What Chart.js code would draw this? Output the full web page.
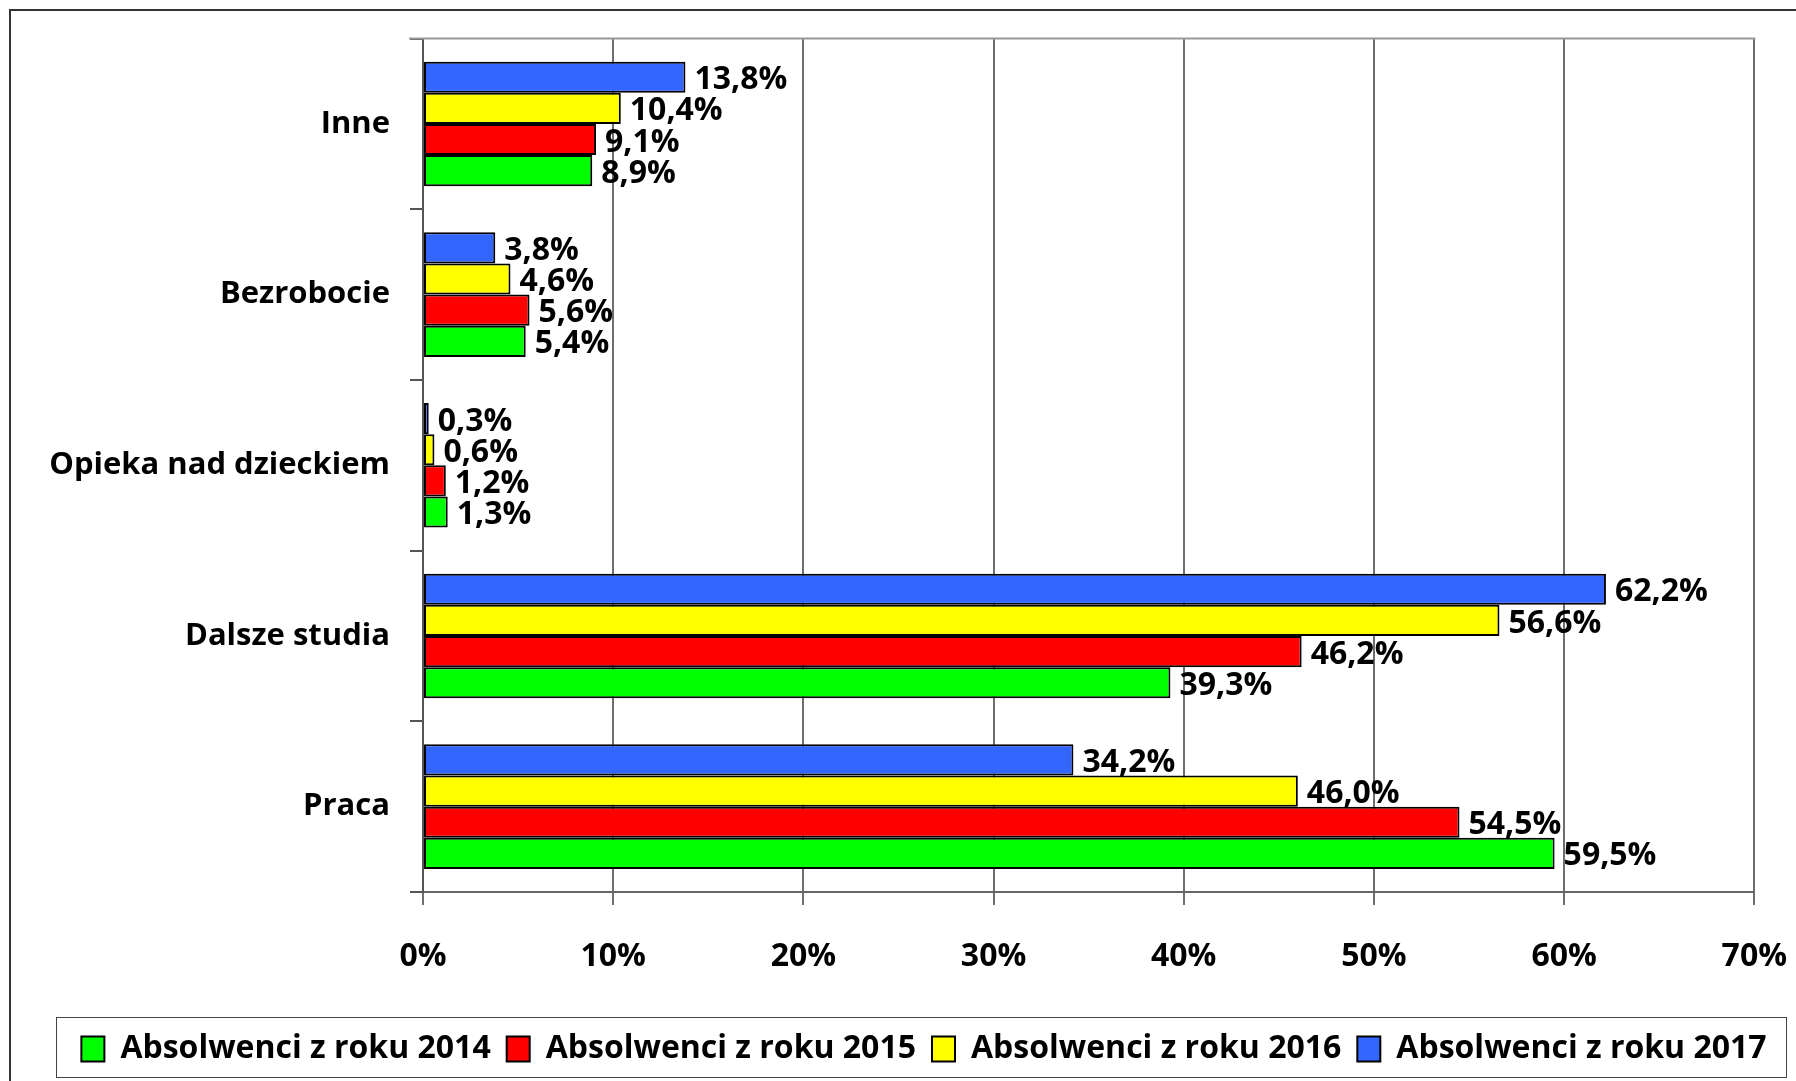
<!DOCTYPE html>
<html>
<head>
<meta charset="utf-8">
<script src="https://cdn.jsdelivr.net/npm/chart.js@4.4.1/dist/chart.umd.min.js"></script>
<style>
  html, body { margin: 0; padding: 0; background: #fff; }
  #wrap { width: 1796px; height: 1081px; }
</style>
</head>
<body>
<div id="wrap"><canvas id="chart" width="1796" height="1081"></canvas></div>
<script>
// categories, top to bottom as in the picture
var categories = ['Inne', 'Bezrobocie', 'Opieka nad dzieckiem', 'Dalsze studia', 'Praca'];

// shares in %, same order as categories
var values2014 = [8.9, 5.4, 1.3, 39.3, 59.5];
var values2015 = [9.1, 5.6, 1.2, 46.2, 54.5];
var values2016 = [10.4, 4.6, 0.6, 56.6, 46.0];
var values2017 = [13.8, 3.8, 0.3, 62.2, 34.2];

var seriesLabels = ['Absolwenci z roku 2017', 'Absolwenci z roku 2016', 'Absolwenci z roku 2015', 'Absolwenci z roku 2014'];
var seriesColors = ['#3366ff', '#ffff00', '#ff0000', '#00ff00'];
var xTicks = [0, 10, 20, 30, 40, 50, 60, 70];

var FONT = "'Open Sans', sans-serif";
var FSIZE = 32;

function fmt(v) {
	return v.toFixed(1).replace('.', ',') + '%';
}

/*----frame, plot border, legend frame----*/
var frames = {
	id: 'frames',
	afterLayout: function(chart) {
		// legend box is narrower than the y axis labels area
		var lg = chart.legend;
		lg.left = 56;
		lg.right = 1792;
		lg.width = lg.right - lg.left;
	},
	beforeDraw: function(chart) {
		var ctx = chart.ctx;
		ctx.save();
		ctx.fillStyle = '#fff';
		ctx.fillRect(0, 0, chart.width, chart.height);
		ctx.strokeStyle = '#333';
		ctx.lineWidth = 2;
		ctx.beginPath();
		ctx.moveTo(10, chart.height + 5);
		ctx.lineTo(10, 10);
		ctx.lineTo(chart.width + 5, 10);
		ctx.stroke();
		ctx.restore();
	},
	afterDraw: function(chart) {
		var ctx = chart.ctx;
		var a = chart.chartArea;
		ctx.save();
		ctx.strokeStyle = '#999';
		ctx.lineWidth = 2;
		ctx.beginPath();
		ctx.moveTo(a.left - 14, a.top);
		ctx.lineTo(a.right + 1, a.top);
		ctx.stroke();
		// legend frame
		var lg = chart.legend;
		var mid = lg.top + lg.options.labels.padding + FSIZE / 2;
		ctx.strokeStyle = '#444';
		ctx.lineWidth = 1;
		ctx.strokeRect(56.5, Math.round(mid - 32) + 0.5, 1730, 60);
		ctx.restore();
	}
};

/*----value labels----*/
var valueLabels = {
	id: 'valueLabels',
	afterDatasetsDraw: function(chart) {
		var ctx = chart.ctx;
		ctx.save();
		ctx.font = 'bold ' + FSIZE + 'px ' + FONT;
		ctx.fillStyle = '#000';
		ctx.textAlign = 'left';
		ctx.textBaseline = 'middle';
		chart.data.datasets.forEach(function(ds, i) {
			chart.getDatasetMeta(i).data.forEach(function(bar, j) {
				ctx.fillText(fmt(ds.data[j]), bar.x + 9, bar.y + 3);
			});
		});
		ctx.restore();
	}
};

var ctx = document.getElementById('chart').getContext('2d');
var myChart = new Chart(ctx, {
	type: 'bar',
	data: {
		labels: categories,
		datasets: [values2017, values2016, values2015, values2014].map(function(vals, i) {
			return {
				label: seriesLabels[i],
				data: vals,
				backgroundColor: seriesColors[i],
				borderColor: '#000',
				borderWidth: 2,
				borderSkipped: false,
				barPercentage: 1,
				categoryPercentage: 0.73
			};
		})
	},
	options: {
		indexAxis: 'y',
		responsive: false,
		animation: false,
		layout: { padding: { left: 30, right: 10, top: 35, bottom: 6 } },
		scales: {
			x: {
				min: xTicks[0],
				max: xTicks[xTicks.length - 1],
				afterFit: function(scale) { scale.height = 125; },
				afterBuildTicks: function(scale) {
					scale.ticks = xTicks.map(function(v) { return { value: v }; });
				},
				ticks: {
					color: '#000',
					font: { family: FONT, size: FSIZE, weight: 'bold', lineHeight: 2.7 },
					padding: 9,
					maxRotation: 0,
					callback: function(v) { return v + '%'; }
				},
				grid: { color: '#6e6e6e', lineWidth: 2, tickLength: 13 },
				border: { color: '#666', width: 2 }
			},
			y: {
				afterFit: function(scale) { scale.width = 393; },
				ticks: {
					color: '#000',
					font: { family: FONT, size: 31, weight: 'bold' },
					padding: 20
				},
				grid: { drawOnChartArea: false, color: '#555', lineWidth: 2, tickLength: 13 },
				border: { color: '#555', width: 2 }
			}
		},
		plugins: {
			legend: {
				position: 'bottom',
				reverse: true,
				labels: {
					color: '#000',
					font: { family: FONT, size: FSIZE, weight: 'bold' },
					boxWidth: 23,
					boxHeight: 25,
					padding: 16
				}
			},
			tooltip: { enabled: false }
		}
	},
	plugins: [frames, valueLabels]
});
</script>
</body>
</html>
